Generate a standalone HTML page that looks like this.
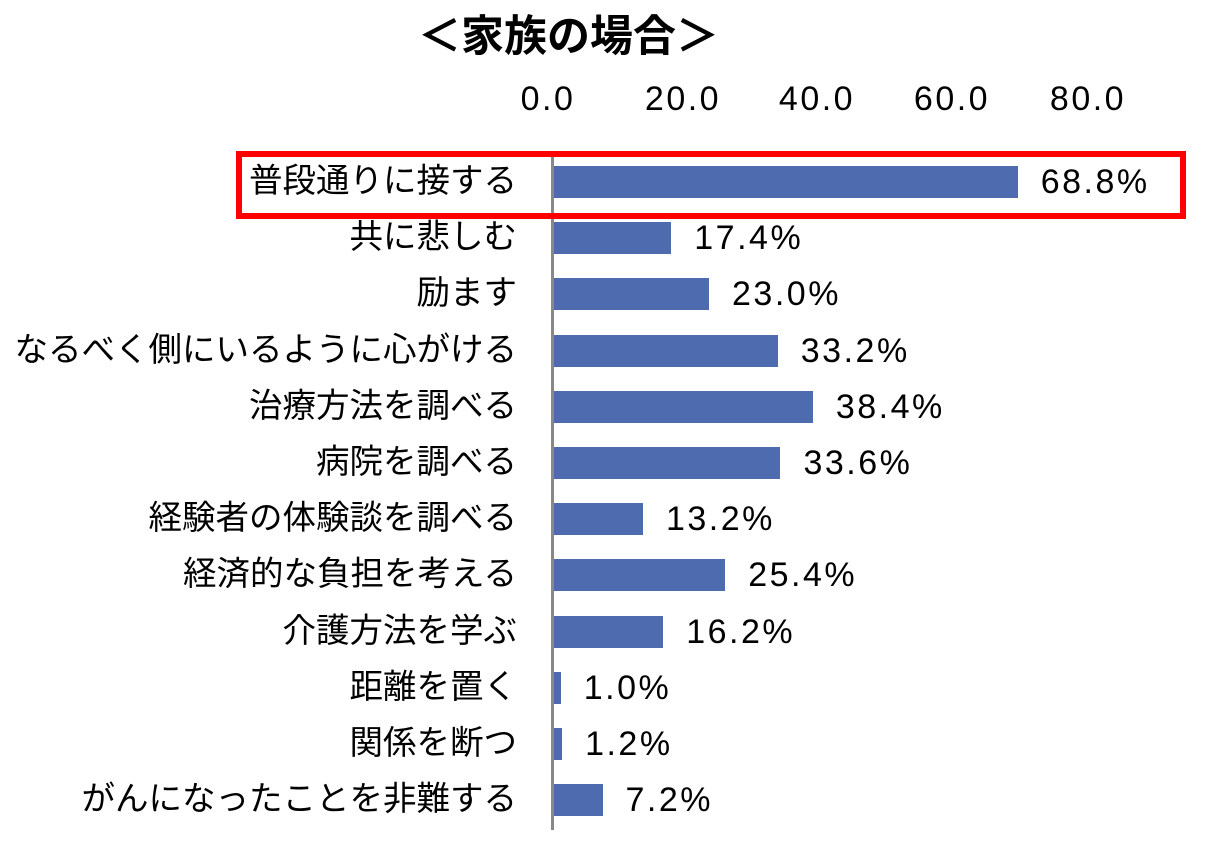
<!DOCTYPE html>
<html><head><meta charset="utf-8"><style>
body{margin:0;width:1213px;height:843px;background:#fff;position:relative;overflow:hidden;font-family:"Liberation Sans","Noto Sans CJK JP",sans-serif;color:#000}
.t{position:absolute;white-space:nowrap;line-height:1}
.bar{position:absolute;background:#4f6baf;height:32px}
.lab{position:absolute;right:696px;font-size:33.5px;line-height:1;white-space:nowrap}
.val{position:absolute;font-size:34px;letter-spacing:2.5px;line-height:1;white-space:nowrap}
.tick{position:absolute;top:80px;font-size:34px;letter-spacing:2.5px;width:140px;text-align:center}
</style></head><body>
<div class="t" style="left:418px;top:16px;font-size:43px;font-weight:bold">＜家族の場合＞</div>
<div class="tick" style="left:478px">0.0</div>
<div class="tick" style="left:613px">20.0</div>
<div class="tick" style="left:747px">40.0</div>
<div class="tick" style="left:882px">60.0</div>
<div class="tick" style="left:1018px">80.0</div>
<div style="position:absolute;left:551px;top:155px;width:3px;height:675px;background:#888"></div>
<div id="c"></div>
<div style="position:absolute;left:236px;top:151px;width:938px;height:56px;border:6px solid #f00"></div>
<script>
var d=[["普段通りに接する",68.8],["共に悲しむ",17.4],["励ます",23.0],["なるべく側にいるように心がける",33.2],["治療方法を調べる",38.4],["病院を調べる",33.6],["経験者の体験談を調べる",13.2],["経済的な負担を考える",25.4],["介護方法を学ぶ",16.2],["距離を置く",1.0],["関係を断つ",1.2],["がんになったことを非難する",7.2]];
var h="";d.forEach(function(r,i){var cy=182+i*56.2,w=r[1]*6.74;
h+='<div class="bar" style="left:554px;top:'+(cy-16)+'px;width:'+w+'px"></div>';
h+='<div class="lab" style="top:'+(cy-17)+'px">'+r[0]+'</div>';
h+='<div class="val" style="left:'+(554+w+23)+'px;top:'+(cy-17)+'px">'+r[1].toFixed(1)+'%</div>';});
document.getElementById("c").innerHTML=h;
</script>
</body></html>
